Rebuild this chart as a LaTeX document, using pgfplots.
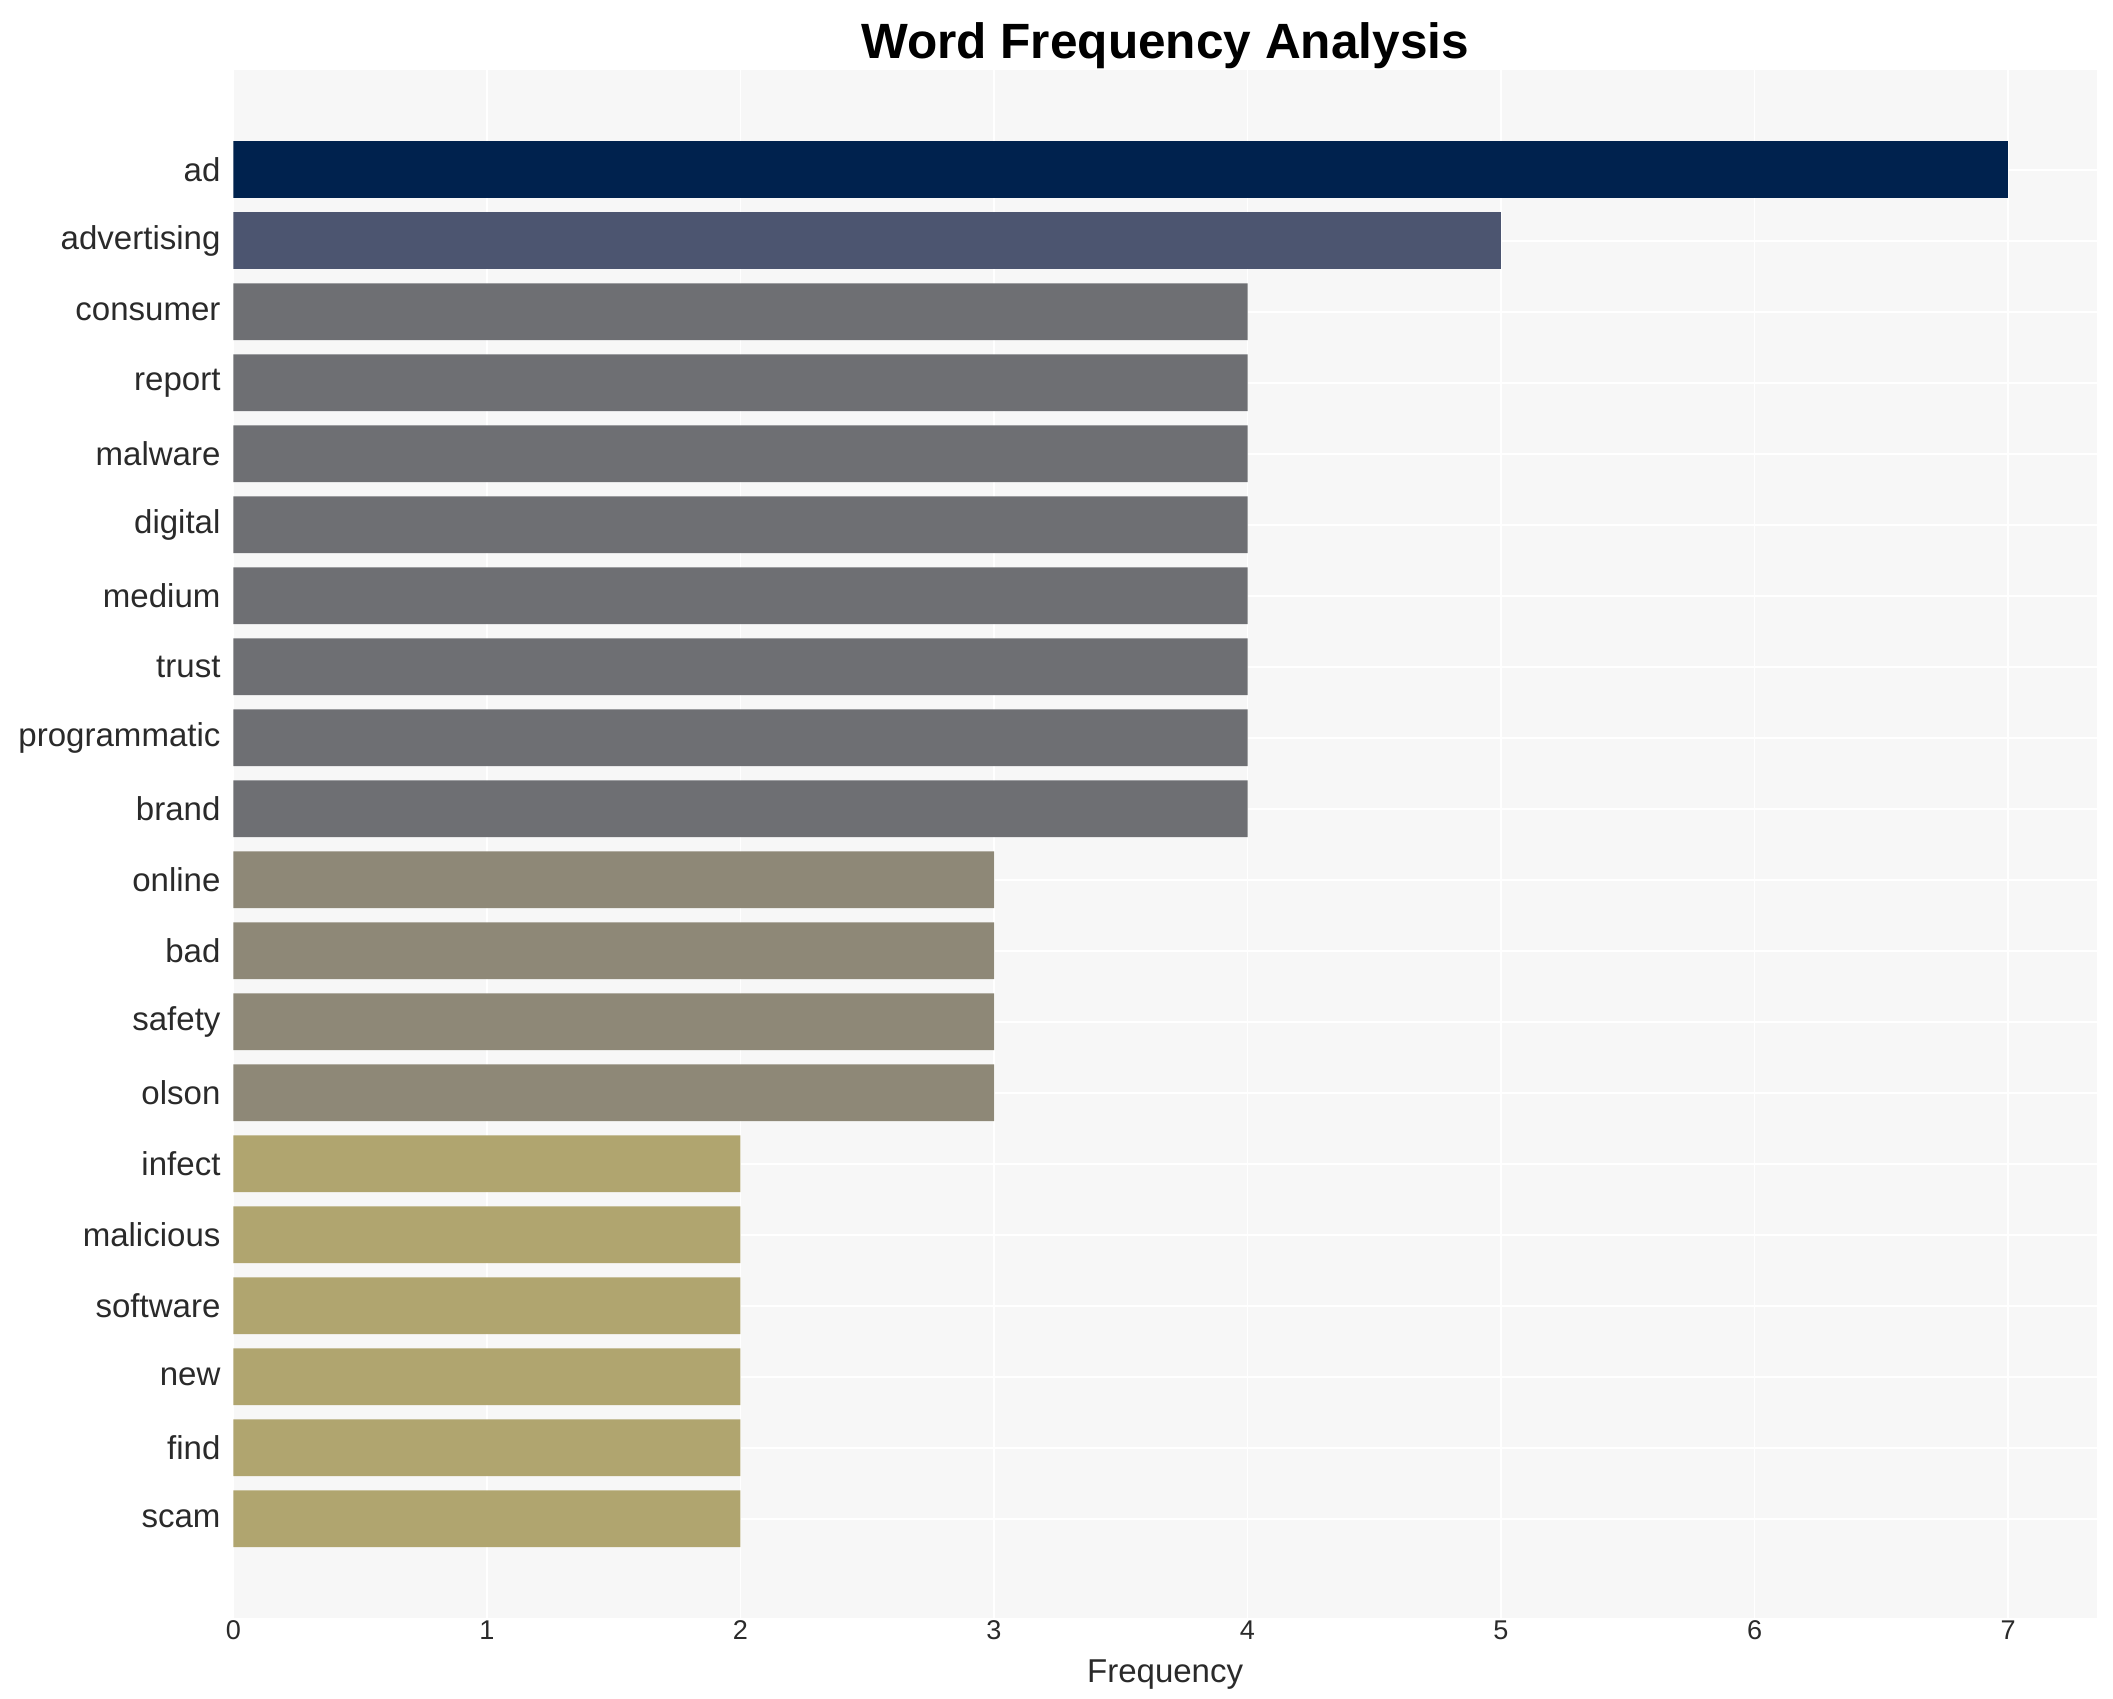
\documentclass[border=0pt]{standalone}
\usepackage{pgfplots}
\pgfplotsset{compat=1.18}
\usepackage{fontspec}
\setmainfont{Liberation Sans}

\definecolor{cTop}{HTML}{00224E}
\definecolor{cSecond}{HTML}{4C5570}
\definecolor{cFour}{HTML}{6E6F73}
\definecolor{cThree}{HTML}{8E8877}
\definecolor{cTwo}{HTML}{B0A56F}
\definecolor{bgpanel}{HTML}{F7F7F7}
\definecolor{txt}{HTML}{2A2A2A}

\begin{document}
\begin{tikzpicture}
\begin{axis}[
    scale only axis,
    width=688pt,
    height=571.5pt,
    xbar,
    bar width=0.8,
    bar shift=0pt,
    xmin=0, xmax=7.35,
    ymin=-1.4, ymax=20.4,
    y dir=reverse,
    xtick={0,...,7},
    ytick={0,...,19},
    yticklabels={ad,advertising,consumer,report,malware,digital,medium,trust,programmatic,brand,online,bad,safety,olson,infect,malicious,software,new,find,scam},
    axis background/.style={fill=bgpanel},
    axis line style={draw=none},
    tick style={draw=none},
    grid=major,
    major grid style={white, line width=0.7pt},
    yticklabel style={font=\fontsize{12.2}{14}\selectfont, text=txt, xshift=3pt},
    xticklabel style={font=\fontsize{10}{12}\selectfont, text=txt, yshift=2.5pt},
    /pgf/number format/assume math mode=true,
    xlabel={Frequency},
    xlabel style={font=\fontsize{12.2}{14}\selectfont, text=txt, yshift=-0.5pt},
    title={Word Frequency Analysis},
    title style={font=\fontsize{18.3}{20}\selectfont\bfseries, at={(0.5,1)}, anchor=base, yshift=-1.5pt},
]
\addplot[fill=cTop, draw=none] coordinates {(7,0)};
\addplot[fill=cSecond, draw=none] coordinates {(5,1)};
\addplot[fill=cFour, draw=none] coordinates {
    (4,2) (4,3) (4,4) (4,5) (4,6) (4,7) (4,8) (4,9)
};
\addplot[fill=cThree, draw=none] coordinates {
    (3,10) (3,11) (3,12) (3,13)
};
\addplot[fill=cTwo, draw=none] coordinates {
    (2,14) (2,15) (2,16) (2,17) (2,18) (2,19)
};
\end{axis}
% white margins as in the reference
\path (current axis.north) ++(0,26pt);
\path (current axis.east) ++(6pt,0);
\path (current axis.outer west) ++(-3.5pt,0);
\end{tikzpicture}
\end{document}
